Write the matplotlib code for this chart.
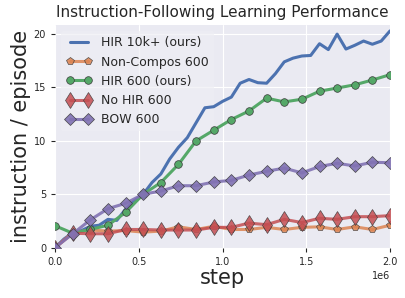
import matplotlib
matplotlib.use("Agg")
import matplotlib.pyplot as plt
import numpy as np


# 39 evaluation points for the 10k+ run, 20 for the 600 runs
STEPS_FINE = np.linspace(0, 2e6, 39)
STEPS = np.linspace(0, 2e6, 20)

HIR_10K = [0.0, 0.8, 1.4, 1.6, 2.0, 2.1, 2.65, 2.55, 3.6, 4.4,
           5.0, 6.1, 6.9, 8.3, 9.4, 10.3, 11.7, 13.1, 13.2, 13.7,
           14.1, 15.4, 15.75, 15.45, 15.4, 16.3, 17.4, 17.75, 17.95, 18.0,
           19.1, 18.55, 20.0, 18.6, 18.95, 19.35, 19.05, 19.35, 20.3]
NON_COMPOS = [0.0, 1.4, 1.65, 1.55, 1.6, 1.45, 1.55, 1.95, 1.7, 2.0,
              1.7, 1.7, 1.9, 1.7, 1.9, 1.95, 1.7, 1.95, 1.7, 2.1]
HIR_600 = [2.05, 1.35, 1.7, 2.1, 3.3, 5.0, 6.1, 7.8, 10.0, 11.0,
           12.0, 12.8, 14.0, 13.65, 13.9, 14.65, 14.95, 15.25, 15.7, 16.2]
NO_HIR = [0.0, 1.35, 1.3, 1.3, 1.7, 1.7, 1.65, 1.65, 1.65, 1.9,
          1.9, 2.3, 2.15, 2.65, 2.35, 2.75, 2.65, 2.9, 2.9, 3.0]
BOW = [0.0, 1.3, 2.6, 3.65, 4.15, 5.0, 5.3, 5.8, 5.8, 6.15,
       6.3, 6.8, 7.15, 7.45, 7.0, 7.6, 7.9, 7.65, 8.0, 7.95]

plt.style.use('seaborn-v0_8-darkgrid')
plt.rcParams['font.family'] = 'DejaVu Sans'

fig = plt.figure(figsize=(4.05, 2.98), dpi=100)
ax = fig.add_axes([0.136, 0.169, 0.827, 0.747])

edge = '#3a3a3a'
ax.plot(STEPS_FINE, HIR_10K, color='#4C72B0', lw=2.2, label='HIR 10k+ (ours)')
ax.plot(STEPS, NON_COMPOS, color='#DD8452', lw=2.2, alpha=0.85, marker='p',
        ms=6, mec=edge, mew=0.5, label='Non-Compos 600')
ax.plot(STEPS, HIR_600, color='#55A868', lw=2.2, marker='o',
        ms=5.5, mec=edge, mew=0.5, label='HIR 600 (ours)')
ax.plot(STEPS, NO_HIR, color='#C44E52', lw=2.2, alpha=0.85, marker='d',
        ms=8.5, mec=edge, mew=0.5, label='No HIR 600')
ax.plot(STEPS, BOW, color='#8172B3', lw=2.2, alpha=0.9, marker='D',
        ms=6.5, mec=edge, mew=0.5, label='BOW 600')

ax.set_xlim(0, 2e6)
ax.set_ylim(0, 20.85)
ax.set_yticks([0, 5, 10, 15, 20])
ax.set_xticks([0, 0.5e6, 1e6, 1.5e6, 2e6])
ax.tick_params(labelsize=7, length=3, width=0.8, color='.15', labelcolor='.15')

ax.set_title('Instruction-Following Learning Performance', fontsize=11, color='.15')
ax.set_xlabel('step', fontsize=15, color='.15', labelpad=1)
ax.set_ylabel('instruction / episode', fontsize=15, color='.15', labelpad=2)
ax.xaxis.get_offset_text().set_fontsize(7)

# legend box sits under the curves, over the grid
leg = ax.legend(loc='upper left', fontsize=9, numpoints=2, frameon=True,
                facecolor='#EEEEF4', edgecolor='none', framealpha=0.7)
leg.set_zorder(1.5)

fig.savefig('out.png', dpi=100)
